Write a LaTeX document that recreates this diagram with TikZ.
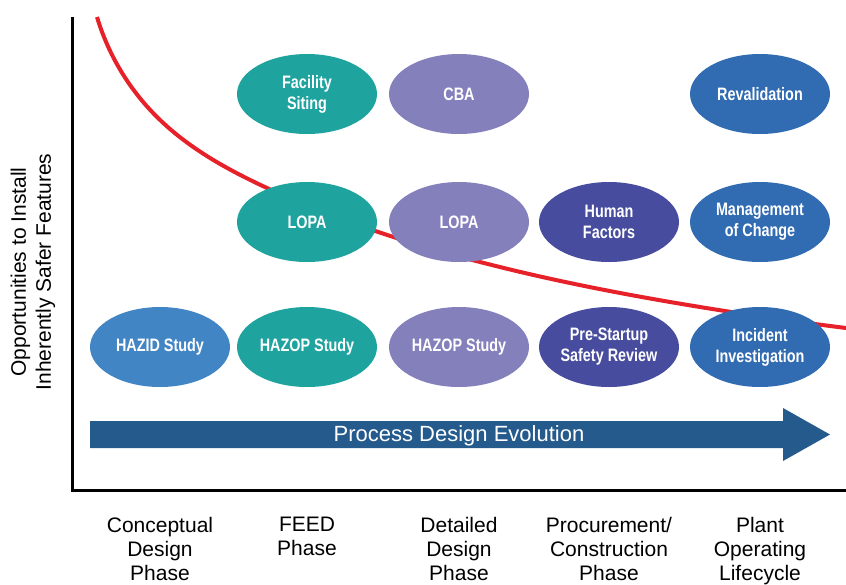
\documentclass[tikz,border=0pt]{standalone}
\usepackage{fontspec}
\setmainfont{Liberation Sans}
\newfontfamily\ovalfont[FakeStretch=0.8]{Liberation Sans}
\usetikzlibrary{shapes.geometric, hobby}

\definecolor{conceptblue}{RGB}{66,133,196}
\definecolor{feedteal}{RGB}{30,163,159}
\definecolor{detaillilac}{RGB}{132,128,188}
\definecolor{procureindigo}{RGB}{71,76,158}
\definecolor{plantblue}{RGB}{49,107,178}
\definecolor{arrowblue}{RGB}{37,91,140}
\definecolor{curvered}{RGB}{230,33,41}

\tikzset{
	oval/.style = {ellipse, minimum width = 140pt, minimum height = 80pt, inner sep = 0pt,
		text = white, align = center, font = \ovalfont\bfseries\fontsize{18}{21}\selectfont},
	phase/.style = {anchor = north, inner sep = 0pt, align = center,
		font = \fontsize{21}{24}\selectfont}
}

\begin{document}
\begin{tikzpicture}[x = 1pt, y = -1pt]
		\useasboundingbox (0, 0) rectangle (846, 584);
		
		\def\colA{160}
		\def\colB{307}
		\def\colC{459}
		\def\colD{609}
		\def\colE{760}
		
		\def\rowA{94}
		\def\rowB{222}
		\def\rowC{347}
		
		\coordinate (O) at (72, 490);
		\coordinate (y top) at (72, 17);
		\coordinate (x end) at (846, 490);
		
		% axes
		\draw [line width = 3pt] (y top) -- (O) -- (x end);
		
		\node [rotate = 90, align = center, inner sep = 0pt, font = \fontsize{21}{25}\selectfont] (y label) at (33, 272) {Opportunities to Install\\Inherently Safer Features};
		
		% opportunity curve
		\coordinate (curve start) at (97, 17);
		\coordinate (curve end) at (846, 328);
		\draw [curvered, line width = 4pt, use Hobby shortcut] (curve start) .. (157, 117) .. (267, 188) .. (480, 262) .. (700, 307) .. (curve end);
		
		% process design evolution arrow
		\coordinate (arrow tail top) at (90, 421);
		\coordinate (arrow tail bottom) at (90, 448);
		\coordinate (arrow tip) at (830, 434.5);
		\fill [arrowblue] (arrow tail top) -- (783, 421) -- (783, 408) -- (arrow tip) -- (783, 461) -- (783, 448) -- (arrow tail bottom) -- cycle;
		\node [text = white, font = \fontsize{22}{24}\selectfont] (evolution) at (459, 436) {Process Design Evolution};
		
		\node [oval, fill = conceptblue] (hazid) at (\colA, \rowC) {HAZID Study};
		
		\node [oval, fill = feedteal] (facility siting) at (\colB, \rowA) {Facility\\Siting};
		\node [oval, fill = feedteal] (feed lopa) at (\colB, \rowB) {LOPA};
		\node [oval, fill = feedteal] (feed hazop) at (\colB, \rowC) {HAZOP Study};
		
		\node [oval, fill = detaillilac] (cba) at (\colC, \rowA) {CBA};
		\node [oval, fill = detaillilac] (detail lopa) at (\colC, \rowB) {LOPA};
		\node [oval, fill = detaillilac] (detail hazop) at (\colC, \rowC) {HAZOP Study};
		
		\node [oval, fill = procureindigo] (human factors) at (\colD, \rowB) {Human\\Factors};
		\node [oval, fill = procureindigo] (pssr) at (\colD, \rowC) {Pre-Startup\\Safety Review};
		
		\node [oval, fill = plantblue] (revalidation) at (\colE, \rowA) {Revalidation};
		\node [oval, fill = plantblue] (moc) at (\colE, \rowB) {Management\\of Change};
		\node [oval, fill = plantblue] (incident) at (\colE, \rowC) {Incident\\Investigation};
		
		% phases
		\node [phase] (conceptual) at (\colA, 517) {Conceptual\\Design\\Phase};
		\node [phase] (feed) at (\colB, 517) {FEED\\Phase};
		\node [phase] (detailed) at (\colC, 517) {Detailed\\Design\\Phase};
		\node [phase] (procurement) at (\colD, 517) {Procurement/\\Construction\\Phase};
		\node [phase] (plant) at (\colE, 517) {Plant\\Operating\\Lifecycle};
	\end{tikzpicture}
\end{document}
